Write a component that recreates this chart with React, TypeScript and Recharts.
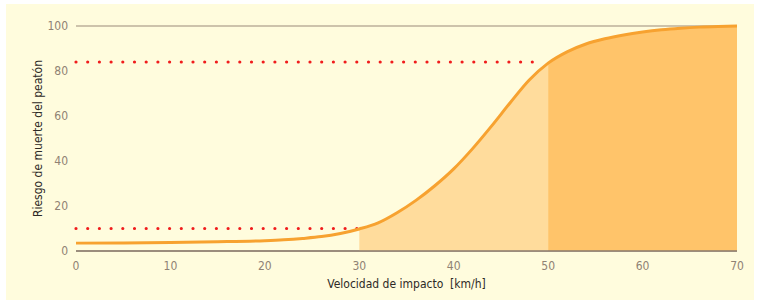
import React from 'react';
import { ComposedChart, Area, Line, XAxis, YAxis, CartesianGrid, ReferenceLine } from 'recharts';

// velocidad de impacto (km/h) y riesgo de muerte (%)
const speeds = [0, 5, 10, 15, 20, 22, 24, 26, 28, 30, 32, 34, 36, 38, 40, 42, 44, 46, 48, 50, 52, 54, 56, 58, 60, 62, 64, 66, 68, 70];
const risk = [3.5, 3.6, 3.8, 4.1, 4.6, 5, 5.6, 6.4, 7.8, 9.8, 12.5, 17, 22.5, 29, 36.5, 45.5, 55.5, 66, 76, 83.5, 88.5, 92, 94.3, 96, 97.3, 98.3, 99, 99.5, 99.8, 100];
const xTicks = [0, 10, 20, 30, 40, 50, 60, 70];
const yTicks = [0, 20, 40, 60, 80, 100];

const lowZone = [30, 50];
const highZone = [50, 70];

const data = speeds.map((s, i) => ({
  speed: s,
  risk: risk[i],
  low: s >= lowZone[0] && s <= lowZone[1] ? risk[i] : null,
  high: s >= highZone[0] && s <= highZone[1] ? risk[i] : null,
}));

const font = "'DejaVu Sans', sans-serif";
const tickStyle = { fill: '#8f8274', fontSize: 12, fontFamily: font, fontStretch: 'condensed' };
const labelStyle = { fill: '#2e2a26', fontSize: 12, fontFamily: font, fontStretch: 'condensed' };

const App: React.FC = () => {
  return (
    <div style={{ position: 'fixed', left: 0, top: 0, width: 760, height: 304, background: '#fff' }}>
      <div style={{ position: 'absolute', left: 6, top: 4, width: 748, height: 296, background: '#fffcdd' }} />
      <div style={{ position: 'absolute', left: 0, top: 0 }}>
        <ComposedChart width={760} height={304} data={data} margin={{ top: 26, right: 19, bottom: 0, left: 30 }}>
          <CartesianGrid vertical={false} stroke="#9c8a7b" strokeWidth={1.2} />
          <XAxis
            dataKey="speed"
            type="number"
            domain={[0, 70]}
            ticks={xTicks}
            tickLine={false}
            axisLine={{ stroke: '#8a7b6e', strokeWidth: 1.5 }}
            tick={tickStyle}
            tickMargin={4}
            label={{ value: 'Velocidad de impacto \u00a0[km/h]', position: 'insideBottom', offset: 16, style: labelStyle }}
            height={53}
          />
          <YAxis
            yAxisId="left"
            domain={[0, 100]}
            ticks={yTicks}
            tickLine={false}
            axisLine={false}
            tickSize={0}
            tickMargin={8}
            tick={tickStyle}
            width={46}
            label={{ value: 'Riesgo de muerte del peatón', angle: -90, position: 'insideLeft', offset: 8, style: { ...labelStyle, textAnchor: 'middle' } }}
          />
          <YAxis
            yAxisId="right"
            orientation="right"
            domain={[0, 100]}
            ticks={yTicks}
            axisLine={false}
            tickLine={{ stroke: '#9c8a7b', strokeWidth: 1.2 }}
            tickSize={3}
            tick={false}
            width={4}
          />
          <Area yAxisId="left" type="monotone" dataKey="low" stroke="none" fill="#ffdc9c" fillOpacity={1} isAnimationActive={false} connectNulls={false} />
          <Area yAxisId="left" type="monotone" dataKey="high" stroke="none" fill="#ffc46a" fillOpacity={1} isAnimationActive={false} connectNulls={false} />
          <ReferenceLine yAxisId="left" segment={[{ x: 0, y: 84 }, { x: 49, y: 84 }]} stroke="#f01c1c" strokeWidth={3.2} strokeDasharray="0 11.7" strokeLinecap="round" />
          <ReferenceLine yAxisId="left" segment={[{ x: 0, y: 10 }, { x: 29.8, y: 10 }]} stroke="#f01c1c" strokeWidth={3.2} strokeDasharray="0 11.7" strokeLinecap="round" />
          <Line yAxisId="left" type="monotone" dataKey="risk" stroke="#f7a230" strokeWidth={3} dot={false} isAnimationActive={false} />
        </ComposedChart>
      </div>
    </div>
  );
};

export default App;
